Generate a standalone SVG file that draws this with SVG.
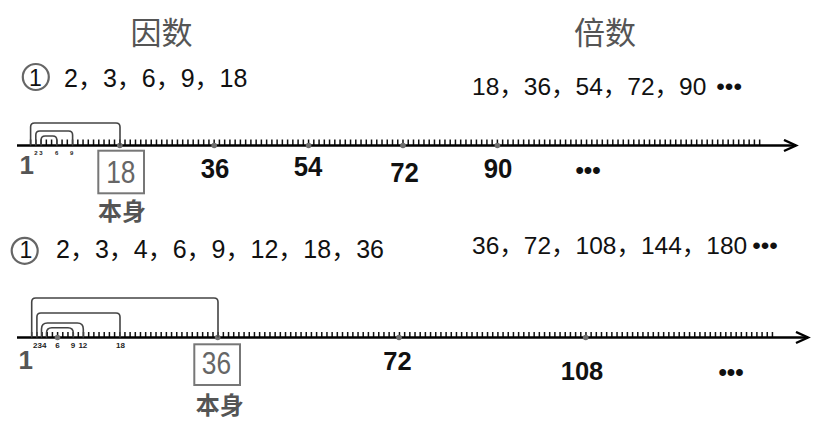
<svg xmlns="http://www.w3.org/2000/svg" width="821" height="421" viewBox="0 0 821 421">
<style>
.title{font-family:"Noto Sans CJK SC",sans-serif;font-size:31px;fill:#555;text-anchor:middle}
.list{font-family:"Liberation Sans","Noto Sans CJK SC",sans-serif;font-size:25px;fill:#111}
.mlist{font-family:"Liberation Sans","Noto Sans CJK SC",sans-serif;font-size:24.5px;fill:#111}
.circ{fill:none;stroke:#666;stroke-width:2.2}
.cnum{font-family:"Liberation Sans",sans-serif;font-size:23px;fill:#111;text-anchor:middle}
.axis{stroke:#000;stroke-width:2.4;fill:none}
.ticks{stroke:#111;fill:none}
.bracket{stroke:#444;stroke-width:1.6;fill:none}
.dot{fill:#6e6e6e}
.num{font-family:"Liberation Sans",sans-serif;font-weight:bold;fill:#111;text-anchor:middle}
.small{font-family:"Liberation Sans",sans-serif;font-weight:bold;fill:#222}
.one{font-family:"Liberation Sans",sans-serif;font-weight:bold;fill:#555;text-anchor:middle}
.box{fill:none;stroke:#777;stroke-width:2}
.boxnum{font-family:"Liberation Sans",sans-serif;font-size:31px;fill:#666;text-anchor:middle}
.self{font-family:"Noto Sans CJK SC",sans-serif;font-weight:bold;font-size:24px;fill:#555;text-anchor:middle}
</style>
<defs>
<marker id="arrow" markerUnits="userSpaceOnUse" markerWidth="16" markerHeight="14" refX="13" refY="6.5" orient="auto">
<path d="M1,1 L13,6.5 L1,12" fill="none" stroke="#000" stroke-width="2.4"/>
</marker>
</defs>

<g id="titles">
<text class="title" x="161.4" y="43.5">因数</text>
<text class="title" x="605" y="43.5">倍数</text>
</g>

<g id="row1-factors">
<circle class="circ" cx="35.8" cy="77" r="13"/>
<text class="cnum" x="35.5" y="85.5">1</text>
<text class="list" x="64" y="87">2，3，6，9，18</text>
</g>
<g id="row1-multiples">
<text class="mlist" x="472" y="95">18，36，54，72，90<tspan dx="10">•••</tspan></text>
</g>

<g id="axis1">
<line class="ticks" x1="29.85" y1="142.5" x2="760.4" y2="142.5" stroke-width="6" stroke-dasharray="1.5 3.745"/>
<line class="axis" x1="17" y1="145.5" x2="796" y2="145.5" marker-end="url(#arrow)"/>
<circle class="dot" cx="119.8" cy="145.5" r="2.8"/>
<circle class="dot" cx="214.2" cy="145.5" r="2.8"/>
<circle class="dot" cx="308.6" cy="145.5" r="2.8"/>
<circle class="dot" cx="403" cy="145.5" r="2.8"/>
<circle class="dot" cx="497.4" cy="145.5" r="2.8"/>
<text class="small" font-size="6" x="34.2" y="155">2 3</text>
<text class="small" font-size="6" x="55" y="155">6</text>
<text class="small" font-size="6" x="70" y="155">9</text>
<text class="one" font-size="26" x="26.8" y="174">1</text>
<text class="num" font-size="28" transform="translate(215,178) scale(0.92,1)">36</text>
<text class="num" font-size="28" transform="translate(308,176) scale(0.92,1)">54</text>
<text class="num" font-size="28" transform="translate(404.5,181.7) scale(0.92,1)">72</text>
<text class="num" font-size="28" transform="translate(498,178.3) scale(0.92,1)">90</text>
<text class="num" font-size="24" x="588" y="178">•••</text>
</g>

<g id="self18">
<rect class="box" x="98.3" y="150.7" width="45.7" height="42.6"/>
<text class="boxnum" transform="translate(120.8,182.7) scale(0.85,1)">18</text>
<text class="self" x="122" y="220">本身</text>
</g>

<g id="row2-factors">
<circle class="circ" cx="24.7" cy="250.8" r="13"/>
<text class="cnum" x="26" y="258">1</text>
<text class="list" x="56" y="258">2，3，4，6，9，12，18，36</text>
</g>
<g id="row2-multiples">
<text class="mlist" x="472" y="254">36，72，108，144，180<tspan dx="5">•••</tspan></text>
</g>

<g id="axis2">
<line class="ticks" x1="30.95" y1="334.75" x2="773.3" y2="334.75" stroke-width="5.5" stroke-dasharray="1.5 3.68"/>
<line class="axis" x1="17" y1="337.5" x2="808" y2="337.5" marker-end="url(#arrow)"/>
<circle class="dot" cx="57.5" cy="337.5" r="2.8"/>
<circle class="dot" cx="217.7" cy="337.5" r="2.8"/>
<circle class="dot" cx="399" cy="337.5" r="2.8"/>
<circle class="dot" cx="585.7" cy="337.5" r="2.8"/>
<text class="small" font-size="8" x="33" y="347.5">234</text>
<text class="small" font-size="8" x="55.3" y="347.5">6</text>
<text class="small" font-size="8" x="70.8" y="347.5">9</text>
<text class="small" font-size="8" x="78.4" y="347.5">12</text>
<text class="small" font-size="8" x="116" y="347.5">18</text>
<text class="one" font-size="26" x="25.8" y="369">1</text>
<text class="num" font-size="25.5" x="397.5" y="370">72</text>
<text class="num" font-size="25.5" x="582" y="380">108</text>
<text class="num" font-size="24" x="731" y="380">•••</text>
</g>

<g id="self36">
<rect class="box" x="194.3" y="344.3" width="45.7" height="40.7"/>
<text class="boxnum" transform="translate(216.5,374.3) scale(0.85,1)">36</text>
<text class="self" x="219.7" y="414">本身</text>
</g>

<g id="connectors">
<path class="bracket" d="M30.6,145.5 V127 Q30.6,123 34.6,123 H116 Q120,123 120,127 V145.5"/>
<path class="bracket" d="M35.8,145.5 V135 Q35.8,131 39.8,131 H68.6 Q72.6,131 72.6,135 V145.5"/>
<path class="bracket" d="M41.1,145.5 V140 Q41.1,136 45.1,136 H52.8 Q56.8,136 56.8,140 V145.5"/>
<path class="bracket" d="M31.7,337.5 V302 Q31.7,298 35.7,298 H214 Q218,298 218,302 V337.5"/>
<path class="bracket" d="M36.9,337.5 V317 Q36.9,313 40.9,313 H116 Q120,313 120,317 V337.5"/>
<path class="bracket" d="M41.5,337.5 V329 Q41.5,323 47.5,323 H77.3 Q83.3,323 83.3,329 V337.5"/>
<path class="bracket" d="M46.5,337.5 V333 Q46.5,327.7 51.8,327.7 H68 Q73.3,327.7 73.3,333 V337.5"/>
</g>
</svg>
